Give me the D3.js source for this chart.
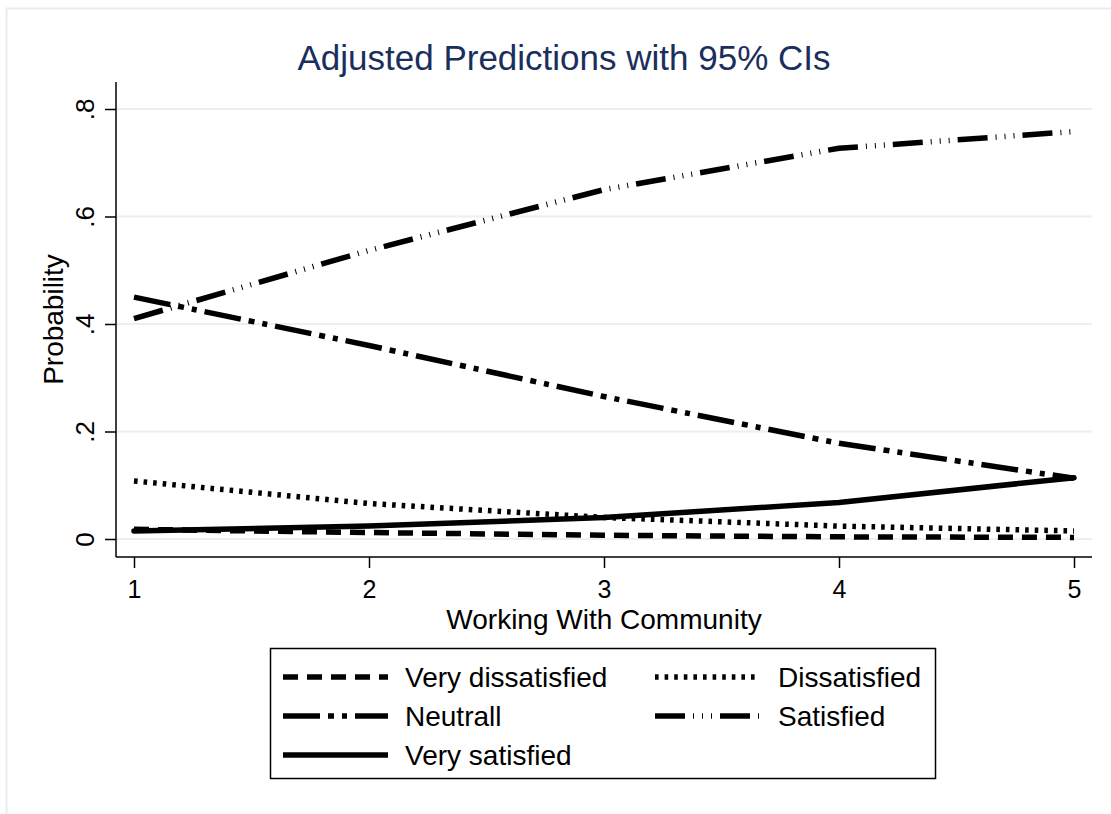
<!DOCTYPE html>
<html>
<head>
<meta charset="utf-8">
<script src="https://cdn.jsdelivr.net/npm/d3@7/dist/d3.min.js"></script>
<style>
  html, body { margin: 0; padding: 0; background: #fff; }
  svg { display: block; font-family: "Liberation Sans", Arial, sans-serif; }
</style>
</head>
<body>
<svg id="chart" width="1111" height="814"></svg>
<script>
// Predicted probability of each satisfaction level across the community-work scale
const xValues = [1, 2, 3, 4, 5];
const yTicks = [0, 0.2, 0.4, 0.6, 0.8];
const yTickLabels = ["0", ".2", ".4", ".6", ".8"];

const veryDissatisfied = [0.018, 0.012, 0.007, 0.004, 0.003];
const dissatisfied     = [0.108, 0.066, 0.040, 0.024, 0.015];
const neutral          = [0.450, 0.360, 0.265, 0.178, 0.113];
const satisfied        = [0.410, 0.537, 0.650, 0.727, 0.758];
const verySatisfied    = [0.015, 0.024, 0.040, 0.068, 0.114];

const seriesNames = ["Very dissatisfied", "Dissatisfied", "Neutrall", "Satisfied", "Very satisfied"];

const series = [
  { name: seriesNames[0], values: veryDissatisfied, dash: "15 9",                cap: "butt" },
  { name: seriesNames[1], values: dissatisfied,     dash: "3.6 6",               cap: "butt" },
  { name: seriesNames[2], values: neutral,          dash: "37 8 6 8 5 8",        cap: "butt" },
  { name: seriesNames[3], values: satisfied,        dash: "30 8 1 8 1 8 1 8",    cap: "butt" },
  { name: seriesNames[4], values: verySatisfied,    dash: null,                  cap: "round" }
];

const svg = d3.select("#chart");

// outer graph-region frame
svg.append("rect")
  .attr("x", 6.5).attr("y", 8.5)
  .attr("width", 1200).attr("height", 900)
  .attr("fill", "#fff")
  .attr("stroke", "#e6eef0").attr("stroke-width", 2);

const plot = { left: 116, right: 1092, top: 82, bottom: 557 };

const x = d3.scaleLinear().domain([1, 5]).range([134, 1074]);
const y = d3.scaleLinear().domain([0, 0.8]).range([539, 109]);

// grid lines
svg.append("g")
  .selectAll("line")
  .data(yTicks)
  .join("line")
  .attr("x1", plot.left).attr("x2", plot.right)
  .attr("y1", d => y(d)).attr("y2", d => y(d))
  .attr("stroke", "#e9f0f2").attr("stroke-width", 2);

// y axis
const yAxis = d3.axisLeft(y)
  .tickValues(yTicks)
  .tickFormat((d, i) => yTickLabels[i])
  .tickSize(11)
  .tickPadding(0);
const gy = svg.append("g")
  .attr("transform", `translate(${plot.left},0)`)
  .call(yAxis);
gy.select(".domain").remove();
gy.append("line")
  .attr("x1", 0).attr("x2", 0)
  .attr("y1", plot.top).attr("y2", plot.bottom)
  .attr("stroke", "#000").attr("stroke-width", 1.5);
gy.selectAll(".tick line").attr("stroke", "#000").attr("stroke-width", 1.5);
gy.selectAll(".tick text")
  .attr("x", null).attr("dy", null)
  .attr("transform", "translate(-22,0) rotate(-90)")
  .attr("text-anchor", "middle")
  .attr("fill", "#000")
  .style("font-size", "26px");

// x axis
const xAxis = d3.axisBottom(x)
  .tickValues(xValues)
  .tickFormat(d3.format("d"))
  .tickSize(11);
const gx = svg.append("g")
  .attr("transform", `translate(0,${plot.bottom})`)
  .call(xAxis);
gx.select(".domain").remove();
gx.append("line")
  .attr("x1", plot.left).attr("x2", plot.right)
  .attr("y1", 0).attr("y2", 0)
  .attr("stroke", "#000").attr("stroke-width", 1.5);
gx.selectAll(".tick line").attr("stroke", "#000").attr("stroke-width", 1.5);
gx.selectAll(".tick text")
  .attr("y", 41).attr("dy", null)
  .attr("fill", "#000")
  .style("font-size", "25px");

// axis titles
svg.append("text")
  .attr("x", (plot.left + plot.right) / 2).attr("y", 629)
  .attr("text-anchor", "middle")
  .style("font-size", "28px")
  .text("Working With Community");

svg.append("text")
  .attr("transform", `translate(63,${(plot.top + plot.bottom) / 2}) rotate(-90)`)
  .attr("text-anchor", "middle")
  .style("font-size", "28px")
  .text("Probability");

// title
svg.append("text")
  .attr("x", 564).attr("y", 70)
  .attr("text-anchor", "middle")
  .attr("fill", "#1a2f5c")
  .style("font-size", "35px")
  .text("Adjusted Predictions with 95% CIs");

// prediction lines
const line = d3.line()
  .x((d, i) => x(xValues[i]))
  .y(d => y(d));

svg.append("g")
  .selectAll("path")
  .data(series)
  .join("path")
  .attr("d", d => line(d.values))
  .attr("fill", "none")
  .attr("stroke", "#000")
  .attr("stroke-width", 5.5)
  .attr("stroke-linejoin", "round")
  .attr("stroke-linecap", d => d.cap)
  .attr("stroke-dasharray", d => d.dash);

// legend
const legend = svg.append("g");
legend.append("rect")
  .attr("x", 270.5).attr("y", 648.5)
  .attr("width", 665).attr("height", 130)
  .attr("fill", "#fff")
  .attr("stroke", "#000").attr("stroke-width", 1.5);

const legendPos = [
  { sx: 283, tx: 405, y: 677 },
  { sx: 655, tx: 778, y: 677 },
  { sx: 283, tx: 405, y: 716 },
  { sx: 655, tx: 778, y: 716 },
  { sx: 283, tx: 405, y: 755 }
];

const items = legend.selectAll("g.item")
  .data(series)
  .join("g")
  .attr("class", "item")
  .attr("transform", (d, i) => `translate(${legendPos[i].sx},${legendPos[i].y})`);

items.append("line")
  .attr("x1", 0).attr("x2", 105)
  .attr("y1", 0).attr("y2", 0)
  .attr("stroke", "#000")
  .attr("stroke-width", 5.5)
  .attr("stroke-linecap", "butt")
  .attr("stroke-dasharray", d => d.dash);

items.append("text")
  .attr("x", (d, i) => legendPos[i].tx - legendPos[i].sx)
  .attr("y", 10)
  .style("font-size", "28px")
  .text(d => d.name);
</script>
</body>
</html>
